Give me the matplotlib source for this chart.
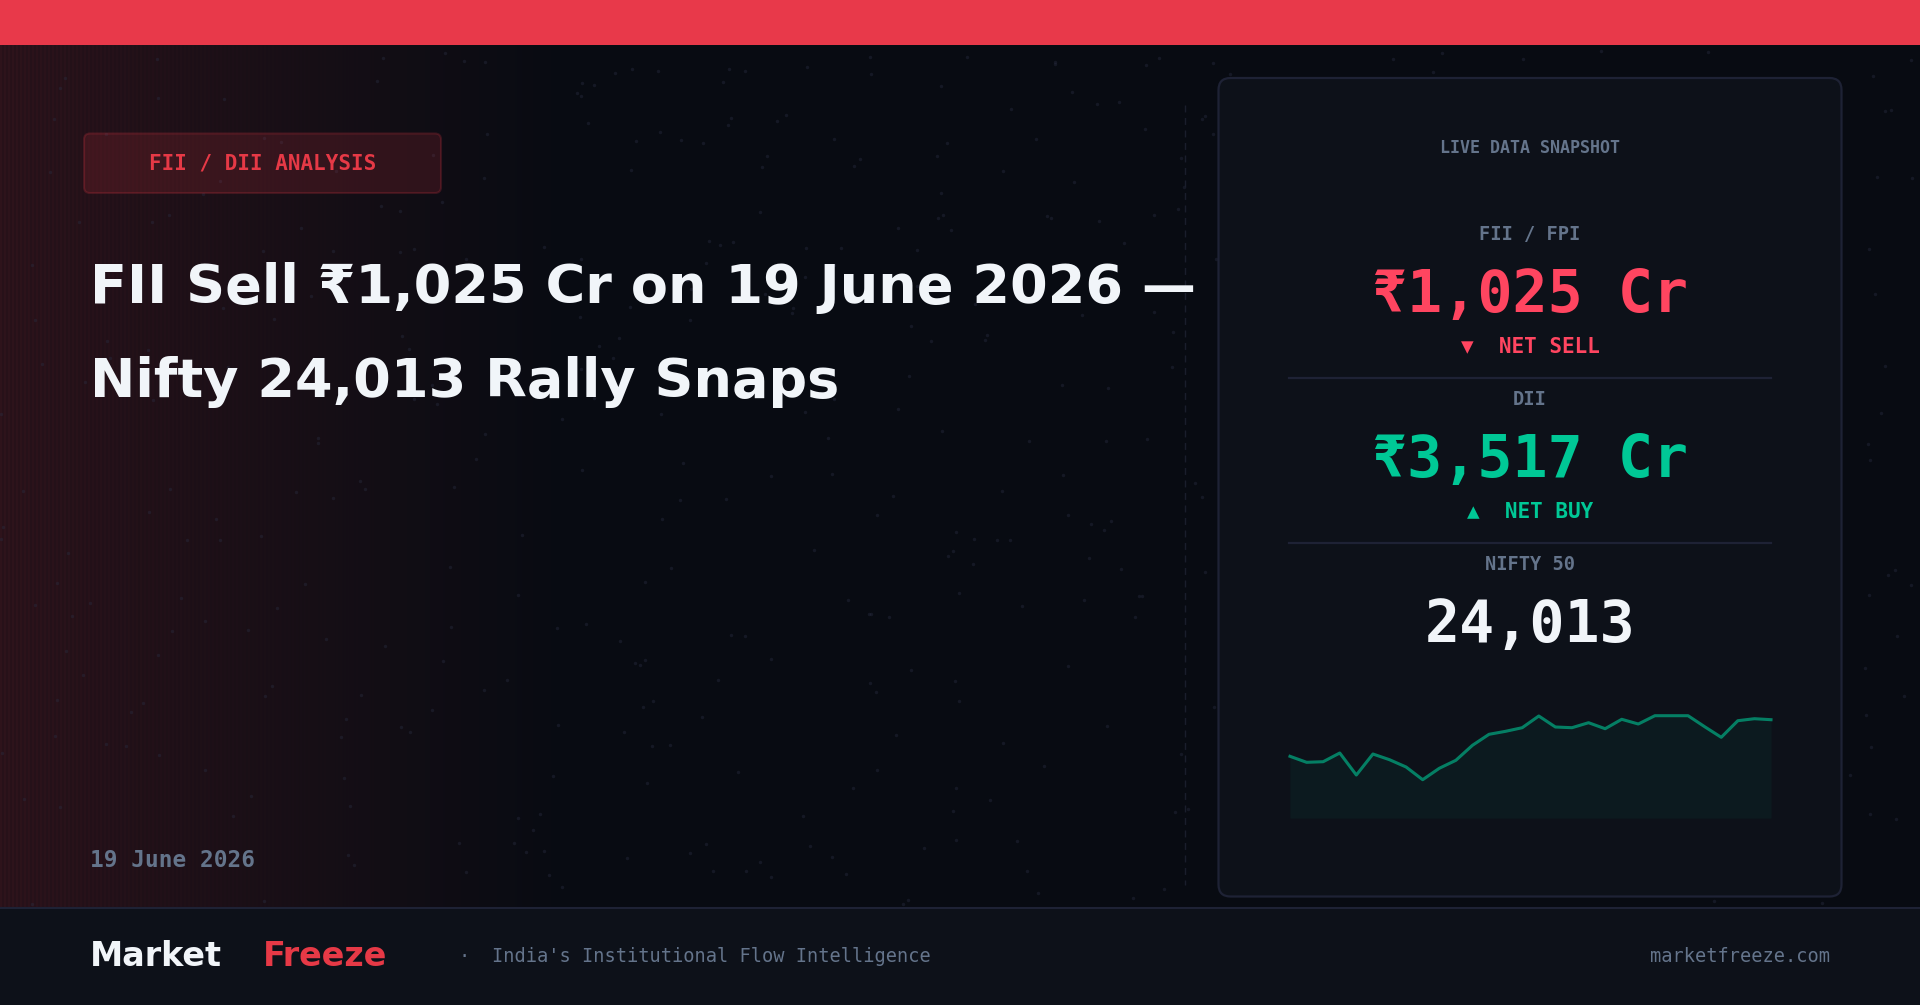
from matplotlib import pyplot as plt
from matplotlib.patches import FancyBboxPatch, Rectangle
import numpy as np

# ---- data ----
spark_values = [61.7, 55.7, 56.3, 65.0, 43.0, 64.0, 58.3, 51.0, 38.3, 49.7,
                57.7, 72.7, 83.7, 86.7, 90.3, 102.0, 91.0, 90.3, 95.3, 89.3,
                98.7, 94.0, 102.3, 102.3, 102.3, 91.3, 80.7, 97.3, 99.3, 98.3]
title_lines = ['FII Sell ₹1,025 Cr on 19 June 2026 —', 'Nifty 24,013 Rally Snaps']
badge_text = 'FII / DII ANALYSIS'
date_text = '19 June 2026'
panel_title = 'LIVE DATA SNAPSHOT'
panel_labels = ['FII / FPI', 'DII', 'NIFTY 50']
panel_values = ['₹1,025 Cr', '₹3,517 Cr', '24,013']
panel_flows = ['▼  NET SELL', '▲  NET BUY']
brand_words = ['Market', 'Freeze']
tagline = "India's Institutional Flow Intelligence"
site = 'marketfreeze.com'

W, H = 1920, 1005
RED = '#e63946'
VALUE_RED = '#ff4560'
GREEN = '#00c896'
WHITE = '#f1f5f9'
MUTED = '#64748b'
LINE = '#1e2235'
PANEL = '#0d1119'
SANS = 'DejaVu Sans'
MONO = 'DejaVu Sans Mono'


def pt(px):
    # font size in css pixels to points at dpi 100
    return px * 0.72


fig = plt.figure(figsize=(W / 100, H / 100), dpi=100)
ax = fig.add_axes([0, 0, 1, 1])

# background: dark base with a striped red glow fading out to the right
base = np.array([8, 11, 18], dtype=float)
glow = np.array([230, 57, 70], dtype=float)
fade = np.clip(1 - np.arange(W) / 560, 0, 1) * 0.14
stripes = 1 + 0.22 * (np.arange(W) % 4 < 2) * np.clip(1 - np.arange(W) / 400, 0, 1)
row = base + (glow - base) * (fade * stripes)[:, None]
bg = np.round(np.repeat(row[None, :, :], H, axis=0)).astype(np.uint8)
ax.imshow(bg, extent=(0, W, H, 0), aspect='auto', interpolation='nearest', zorder=0)

# faint specks, from a fixed hash so that the file gives the same picture each run
idx = np.arange(1, 560)
speck_x = (np.sin(idx * 12.9898) * 43758.5453) % 1 * W
speck_y = 45 + (np.sin(idx * 78.233) * 24634.6345) % 1 * 862
ax.scatter(speck_x, speck_y, s=6, marker='o', color='#2a2e42', alpha=0.4, linewidths=0, zorder=1)

# top bar and footer
ax.add_patch(Rectangle((0, 0), W, 45, color='#e8394a', lw=0, zorder=2))
ax.add_patch(Rectangle((0, 908), W, 97, color=PANEL, lw=0, zorder=2))
ax.plot([0, W], [908, 908], color=LINE, lw=1.5, zorder=3)

# badge
ax.add_patch(FancyBboxPatch((84, 133.5), 357, 59.5, boxstyle='round,pad=0,rounding_size=6',
                            facecolor=(230 / 255, 57 / 255, 70 / 255, 0.15),
                            edgecolor=(230 / 255, 57 / 255, 70 / 255, 0.2), lw=1.5, zorder=3))
ax.text(262.5, 169.5, badge_text, color=RED, family=MONO, weight='bold', fontsize=pt(20.9),
        ha='center', va='baseline', zorder=4)

# headline
ax.text(89.6, 303.3, title_lines[0], color=WHITE, family=SANS, weight='bold', fontsize=pt(54.1),
        ha='left', va='baseline', zorder=4)
ax.text(89.6, 396.7, title_lines[1], color=WHITE, family=SANS, weight='bold', fontsize=pt(54.1),
        ha='left', va='baseline', zorder=4)
ax.text(90, 867, date_text, color=MUTED, family=MONO, weight='bold', fontsize=pt(22.8),
        ha='left', va='baseline', zorder=4)

# dashed separator
ax.plot([1185, 1185], [105, 885], color='#1a1e2c', lw=1, dashes=(5, 4), zorder=2)

# right panel
ax.add_patch(FancyBboxPatch((1218.5, 78), 623, 818.5, boxstyle='round,pad=0,rounding_size=12',
                            facecolor=PANEL, edgecolor=LINE, lw=1.6, zorder=3))
ax.text(1530, 153, panel_title, color=MUTED, family=MONO, weight='bold', fontsize=pt(16.6),
        ha='center', va='baseline', zorder=4)

label_y = [239.7, 404.7, 569.7]
value_y = [312.3, 476.7, 641.7]
flow_y = [352, 517]
value_colors = [VALUE_RED, GREEN, WHITE]
flow_colors = [VALUE_RED, GREEN]
for i in range(3):
    ax.text(1530, label_y[i], panel_labels[i], color=MUTED, family=MONO, weight='bold',
            fontsize=pt(18.7), ha='center', va='baseline', zorder=4)
    ax.text(1530, value_y[i], panel_values[i], color=value_colors[i], family=MONO, weight='bold',
            fontsize=pt(58.3), ha='center', va='baseline', zorder=4)
for i in range(2):
    ax.text(1530, flow_y[i], panel_flows[i], color=flow_colors[i], family=MONO, weight='bold',
            fontsize=pt(21), ha='center', va='baseline', zorder=4)
for y in [378, 543]:
    ax.plot([1289, 1771], [y, y], color=LINE, lw=1.6, zorder=4)

# footer text
ax.text(89.6, 966, brand_words[0], color=WHITE, family=SANS, weight='bold', fontsize=pt(33.4),
        ha='left', va='baseline', zorder=4)
ax.text(262.5, 966, brand_words[1], color=RED, family=SANS, weight='bold', fontsize=pt(33.4),
        ha='left', va='baseline', zorder=4)
ax.text(464, 962, '·', color=MUTED, family=MONO, fontsize=pt(18.7), ha='center', va='baseline', zorder=4)
ax.text(492, 962, tagline, color=MUTED, family=MONO, fontsize=pt(18.7), ha='left', va='baseline', zorder=4)
ax.text(1830, 962, site, color=MUTED, family=MONO, fontsize=pt(18.7), ha='right', va='baseline', zorder=4)

ax.set_xlim(0, W)
ax.set_ylim(H, 0)
ax.axis('off')

# sparkline in its own axes
spark_left, spark_right, spark_bottom, spark_h = 1290, 1771, 818, 121
sp = fig.add_axes([spark_left / W, (H - spark_bottom) / H, (spark_right - spark_left) / W, spark_h / H])
sx = np.arange(len(spark_values))
sp.fill_between(sx, spark_values, 0, color=GREEN, alpha=0.05, linewidth=0)
sp.plot(sx, spark_values, color=GREEN, alpha=0.6, linewidth=2.2, clip_on=False)
sp.set_xlim(0, len(spark_values) - 1)
sp.set_ylim(0, spark_h)
sp.axis('off')

plt.savefig('out.png', dpi=100, facecolor='#080b12')
